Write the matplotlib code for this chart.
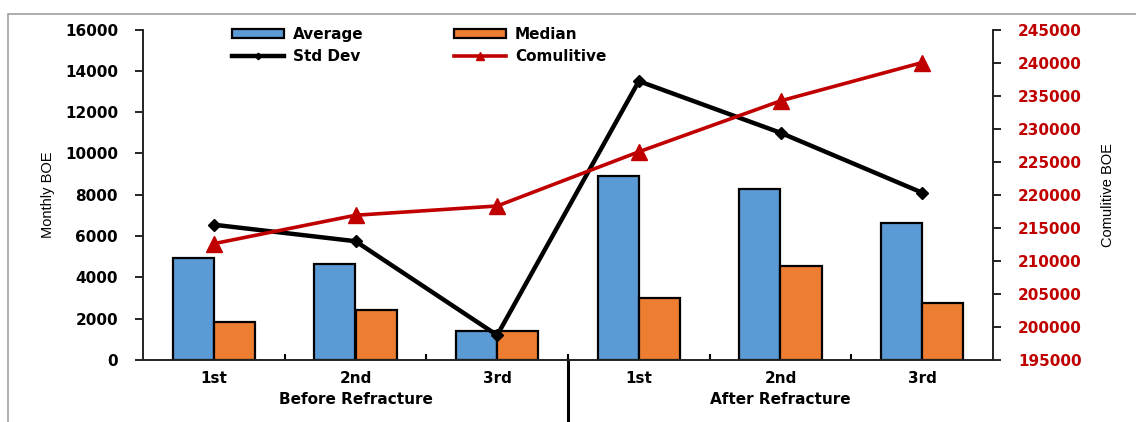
import numpy as np
import matplotlib
matplotlib.use('Agg')
import matplotlib.pyplot as plt
from matplotlib.patches import Rectangle

plt.rcParams['font.family'] = ['DejaVu Sans']

categories = ['1st', '2nd', '3rd', '1st', '2nd', '3rd']
groups = ['Before Refracture', 'After Refracture']

average = [4950, 4650, 1400, 8900, 8300, 6650]
median = [1850, 2420, 1420, 3000, 4550, 2750]
std_dev = [6550, 5750, 1200, 13500, 11000, 8100]
cumulative = [212600, 216900, 218300, 226500, 234200, 240000]

blue = '#5b9bd5'
orange = '#ed7d31'
red = '#c00000'
bold = {'weight': 'bold', 'size': 11}

fig = plt.figure(figsize=(11.36, 4.22), dpi=100)
ax = fig.add_axes([143/1136, 1-360/422, 850/1136, 330.5/422])
ax2 = ax.twinx()

# outer frame
fig.patches.append(Rectangle((8/1136, -0.1), 1.2, 1-14/422+0.1, transform=fig.transFigure,
                             fill=False, edgecolor='#a0a0a0', lw=1.2))

x = np.arange(len(categories))
w = 0.29
b1 = ax.bar(x - w/2, average, w, color=blue, edgecolor='black', lw=1.6, label='Average', zorder=2)
b2 = ax.bar(x + w/2, median, w, color=orange, edgecolor='black', lw=1.6, label='Median', zorder=2)
l1, = ax.plot(x, std_dev, color='black', lw=3.2, marker='D', ms=6, label='Std Dev', zorder=3)
l2, = ax2.plot(x, cumulative, color=red, lw=2.6, marker='^', ms=11, label='Comulitive')

ax.set_xlim(-0.5, 5.5)
ax.set_ylim(0, 16000)
ax.set_yticks(np.arange(0, 16001, 2000))
ax2.set_ylim(195000, 245000)
ax2.set_yticks(np.arange(195000, 245001, 5000))

ax.set_xticks(x)
ax.set_xticklabels(categories, fontdict=bold)
ax.set_xticks(np.arange(0.5, 5, 1), minor=True)
ax.tick_params(axis='x', which='major', length=0, pad=8)
ax.tick_params(axis='x', which='minor', length=4, width=1.5, direction='in')
ax.tick_params(axis='y', length=6, width=1.2, labelsize=11, pad=12)
ax2.tick_params(axis='y', length=6, width=1.2, labelsize=11, labelcolor=red, pad=12)
for t in ax.get_yticklabels() + ax2.get_yticklabels():
    t.set_fontweight('bold')

for a in (ax, ax2):
    a.spines['top'].set_visible(False)
    for s in ('left', 'right', 'bottom'):
        a.spines[s].set_linewidth(1.2)
        a.spines[s].set_color('#222222')

ax.set_ylabel('Monthly BOE', family='Liberation Sans', fontsize=10.5, labelpad=7)
ax2.set_ylabel('Comulitive BOE', family='Liberation Sans', fontsize=10.5, labelpad=14)

# group labels and separator below the axis
ax.text(1, -0.12, groups[0], transform=ax.get_xaxis_transform(), ha='center', va='center',
        fontdict=bold)
ax.text(4, -0.12, groups[1], transform=ax.get_xaxis_transform(), ha='center', va='center',
        fontdict=bold)
ax.plot([2.5, 2.5], [0, -0.2], transform=ax.get_xaxis_transform(), color='black', lw=2.2,
        clip_on=False)

ax.legend([b1, l1, b2, l2], ['Average', 'Std Dev', 'Median', 'Comulitive'], ncol=2,
          loc='upper left', bbox_to_anchor=(232/1136, 1-27/422), bbox_transform=fig.transFigure,
          frameon=False, prop=bold, handlelength=3.4, handleheight=0.5, columnspacing=5.9,
          labelspacing=0.45, handletextpad=0.6, borderpad=0, borderaxespad=0, markerscale=0.55)

fig.savefig('out.png', dpi=100)
